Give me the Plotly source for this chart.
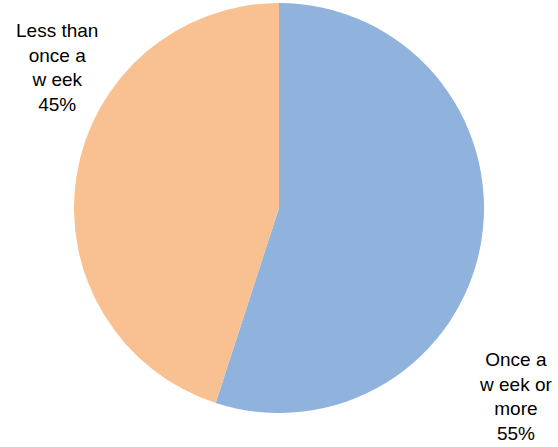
import plotly.graph_objects as go

categories = ["Once a week or more", "Less than once a week"]
values = [55, 45]
label_texts = ["Once a<br>w eek or<br>more<br>55%", "Less than<br>once a<br>w eek<br>45%"]
colors = ["#8FB3DD", "#F9C192"]

W, H = 558, 447
fig = go.Figure(go.Pie(
    labels=categories,
    values=values,
    sort=False,
    direction="clockwise",
    rotation=0,
    marker=dict(colors=colors, line=dict(width=0)),
    textinfo="none",
    hoverinfo="label+percent",
    domain=dict(x=[74 / W, 484 / W], y=[(H - 413) / H, (H - 3) / H]),
    showlegend=False,
))

label_pos = [(515, 396), (57, 67)]
for txt, (px, py) in zip(label_texts, label_pos):
    fig.add_annotation(
        x=px / W, y=1 - py / H, xref="paper", yref="paper",
        text=txt, showarrow=False, align="center",
        xanchor="center", yanchor="middle",
        font=dict(family="Liberation Sans, Arial, sans-serif", size=19, color="#000000"),
    )

fig.update_layout(
    width=W, height=H,
    margin=dict(l=0, r=0, t=0, b=0),
    paper_bgcolor="white",
    plot_bgcolor="white",
)
fig.write_html("out.html", config={"displayModeBar": False},
               post_script="document.body.style.margin='0';")
